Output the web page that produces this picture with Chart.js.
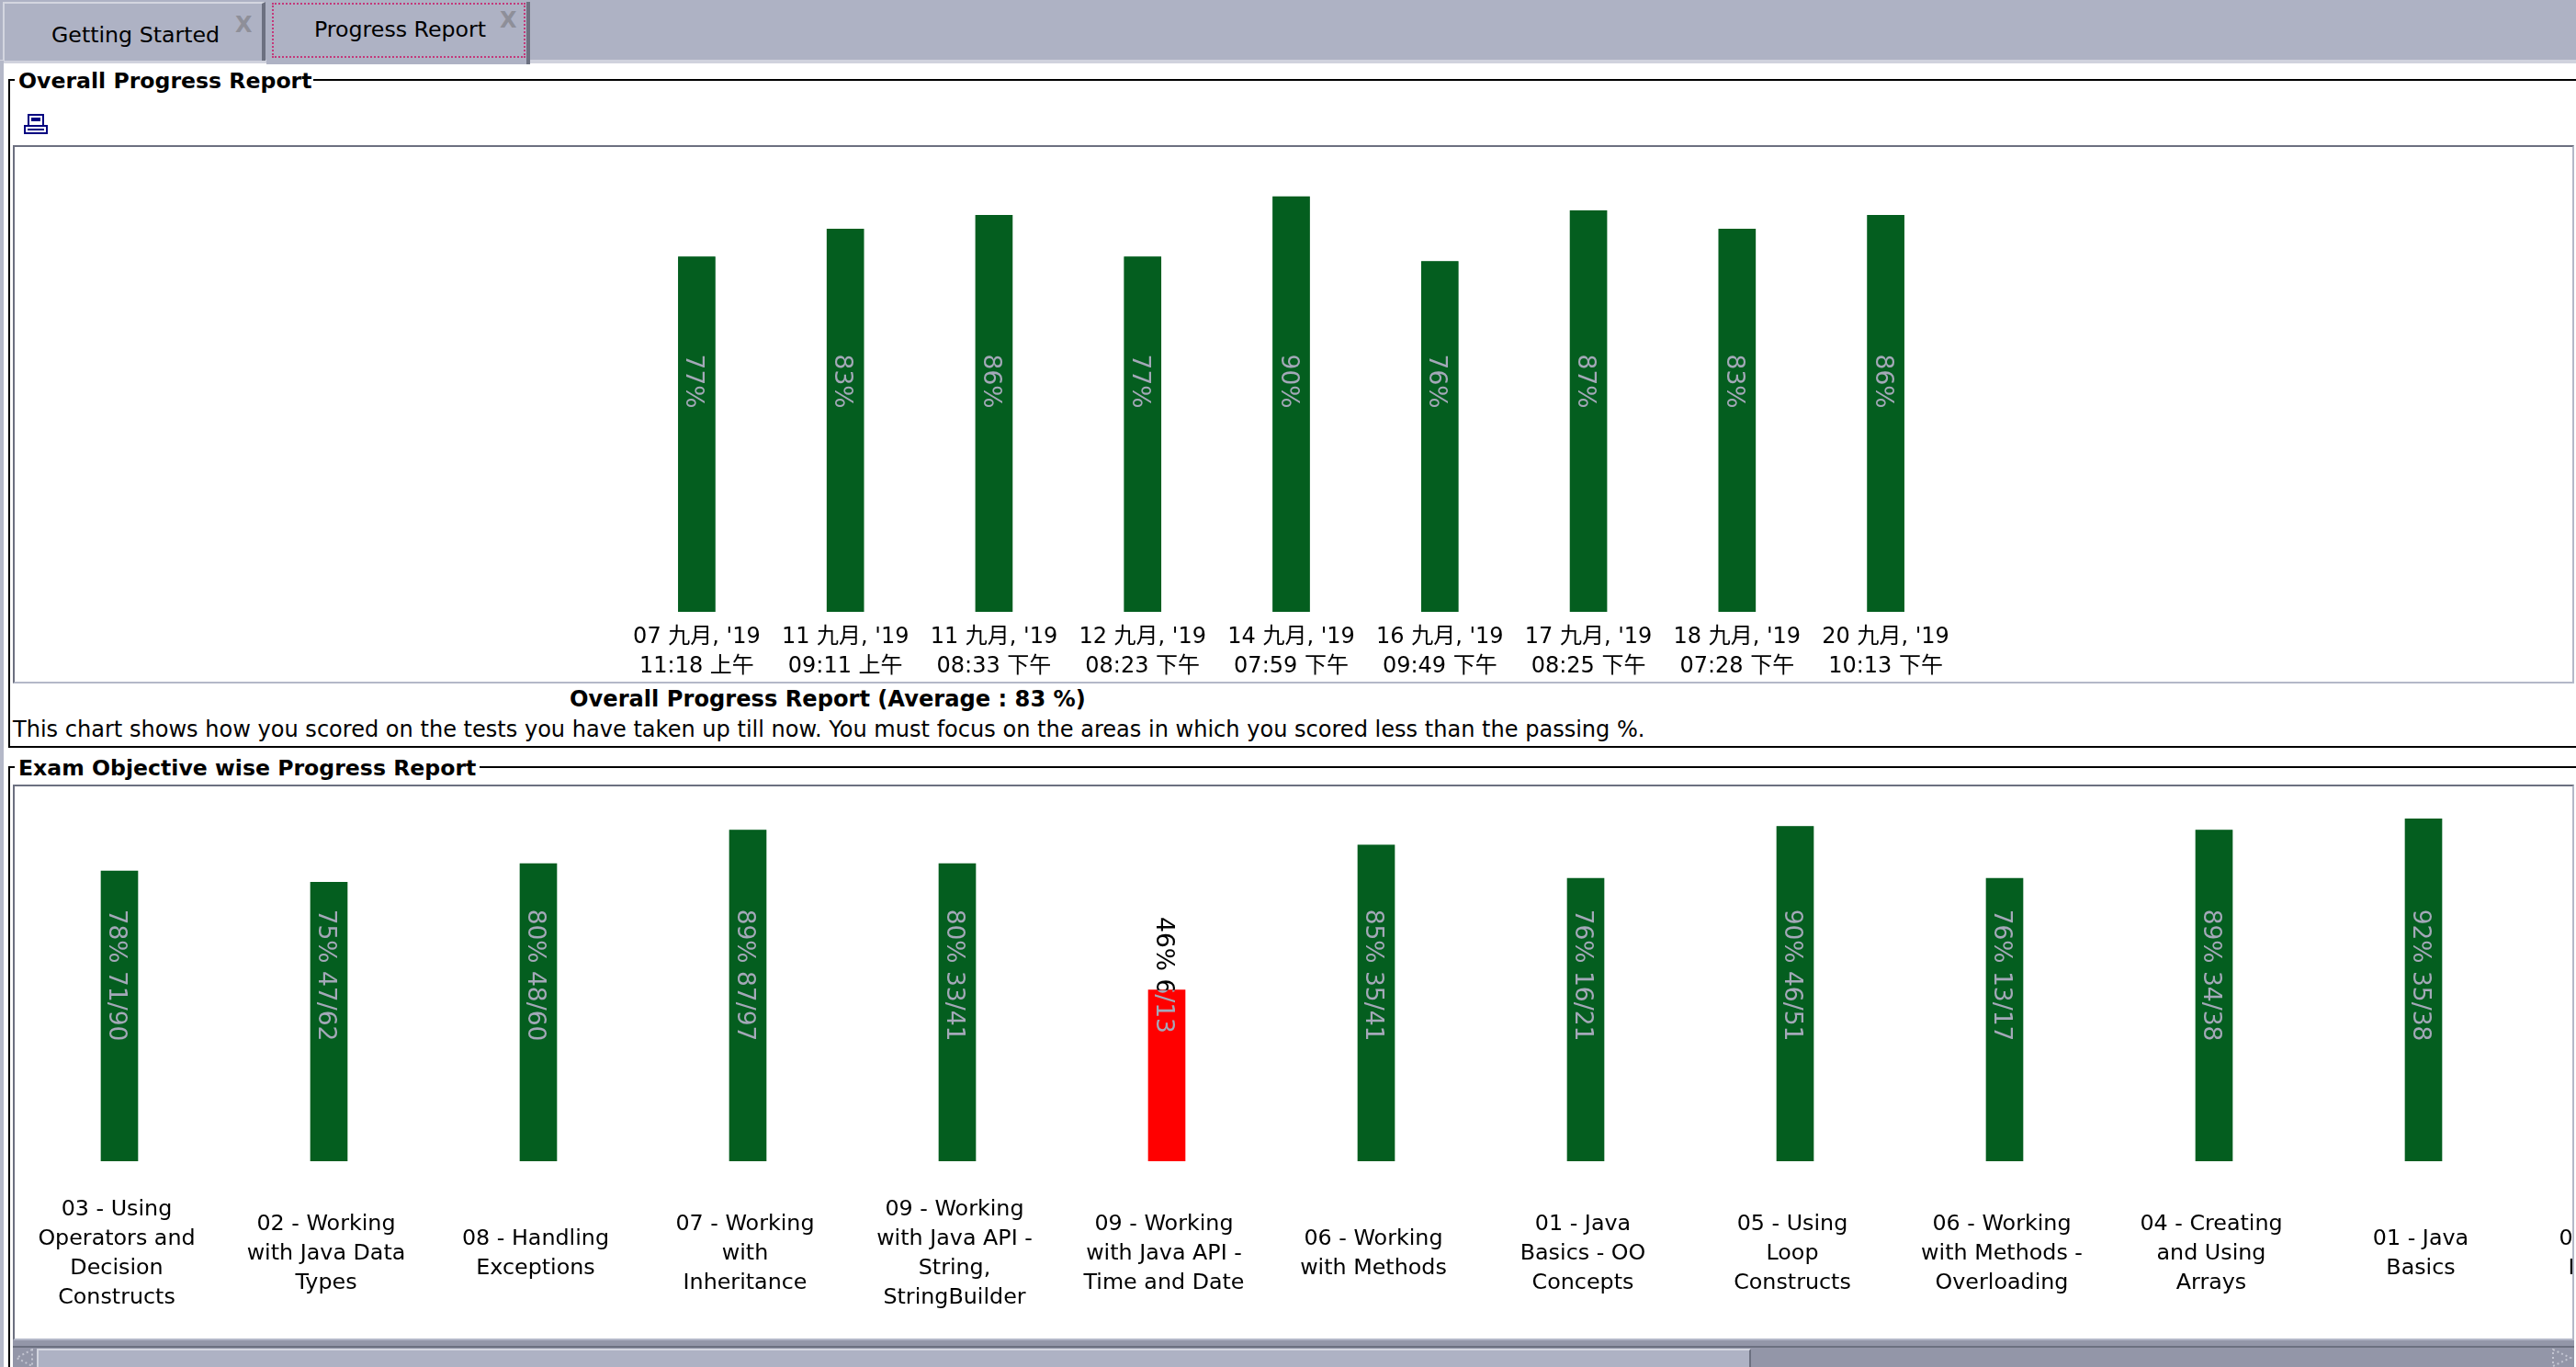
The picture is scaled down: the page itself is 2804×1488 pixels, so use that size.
<!DOCTYPE html>
<html>
<head>
<meta charset="utf-8">
<title>Progress Report</title>
<script src="https://cdn.jsdelivr.net/npm/chart.js@4"></script>
<style>
html, body { margin: 0; padding: 0; background: #fff; width: 2804px; height: 1488px; overflow: hidden; }
body { font: 24px "DejaVu Sans", "Noto Sans CJK TC", sans-serif; color: #000; position: relative; }
.abs { position: absolute; white-space: nowrap; }
.bold { font-weight: bold; }
.legend { font-size: 23.6px; }
.tabtext { font-size: 23.7px; }
.line { position: absolute; background: #000; }
.box { position: absolute; box-sizing: border-box; border-top: 2px solid #6c7080; border-left: 2px solid #6c7080; border-right: 2px solid #b4b8c8; border-bottom: 2px solid #b4b8c8; }
.tab { position: absolute; box-sizing: border-box; top: 2px; height: 64px; background: #aeb2c4; border-top: 2px solid #d4d6e0; border-left: 2px solid #d4d6e0; border-right: 4px solid #6c7080; }
.tabx { position: absolute; font-weight: bold; font-size: 24px; color: #8e8f99; line-height: 24px; }
canvas { position: absolute; left: 0; top: 0; }
</style>
</head>
<body>
<!-- tab strip -->
<div class="abs" style="left:0;top:0;width:2804px;height:66px;background:#aeb2c4"></div>
<div class="abs" style="left:0;top:65px;width:2804px;height:4px;background:#d0d2dd"></div>
<div class="abs" style="left:0;top:66px;width:4px;height:1422px;background:#b4b8c8"></div>
<div class="tab" style="left:3px;width:286px"></div>
<div class="tab" style="left:290px;width:287px;height:68px;border-left:none;border-top:none"></div>
<div class="abs" style="left:296px;top:3px;width:276px;height:60px;box-sizing:border-box;border:2px dotted #c4387a"></div>
<div class="abs tabtext" style="left:56px;top:24px">Getting Started</div>
<div class="abs tabtext" style="left:342px;top:18px">Progress Report</div>
<div class="tabx" style="left:256px;top:15px">X</div>
<div class="tabx" style="left:544px;top:10px">X</div>

<!-- first group -->
<div class="line" style="left:9px;top:86px;width:2px;height:728px"></div>
<div class="line" style="left:9px;top:86px;width:7px;height:2px"></div>
<div class="line" style="left:341px;top:86px;width:2463px;height:2px"></div>
<div class="line" style="left:9px;top:812px;width:2795px;height:2px"></div>
<div class="abs bold legend" style="left:20px;top:74px">Overall Progress Report</div>
<svg class="abs" style="left:26px;top:124px" width="26" height="22" viewBox="0 0 26 22">
  <rect x="5" y="1" width="16" height="12" fill="none" stroke="#000080" stroke-width="2"/>
  <rect x="8" y="4" width="10" height="4" fill="#000080"/>
  <rect x="1" y="13" width="24" height="8" fill="none" stroke="#000080" stroke-width="2"/>
  <rect x="4" y="16" width="18" height="2" fill="#000080"/>
</svg>
<div class="box" style="left:14px;top:158px;width:2788px;height:586px"></div>
<canvas id="chartOverall"></canvas>
<div class="abs bold" style="left:620px;top:747px;font-size:24.15px">Overall Progress Report (Average : 83 %)</div>
<div class="abs" style="left:14px;top:780px;font-size:24.05px">This chart shows how you scored on the tests you have taken up till now. You must focus on the areas in which you scored less than the passing %.</div>

<!-- second group -->
<div class="line" style="left:9px;top:834px;width:2px;height:654px"></div>
<div class="line" style="left:9px;top:834px;width:7px;height:2px"></div>
<div class="line" style="left:522px;top:834px;width:2282px;height:2px"></div>
<div class="abs bold legend" style="left:20px;top:822px">Exam Objective wise Progress Report</div>
<div class="box" style="left:14px;top:854px;width:2788px;height:605px"></div>
<div class="abs" style="left:16px;top:856px;width:2784px;height:601px;overflow:hidden">
  <canvas id="chartObjectives"></canvas>
</div>

<!-- scrollbar -->
<div class="abs" style="left:14px;top:1459px;width:2788px;height:29px;background:#9396a8"></div>
<div class="abs" style="left:14px;top:1465px;width:2788px;height:2px;background:#6c7080"></div>
<div class="abs" style="left:40px;top:1468px;width:1866px;height:20px;box-sizing:border-box;background:#aeb2c4;border-top:2px solid #d4d6e0;border-left:2px solid #d4d6e0;border-right:2px solid #6c7080"></div>
<svg class="abs" style="left:16px;top:1468px" width="20" height="20"><path d="M19 1 L2 10 L19 19 Z" fill="none" stroke="#c4c6d2" stroke-width="2" stroke-dasharray="2 3"/></svg>
<svg class="abs" style="left:2778px;top:1468px" width="22" height="20"><path d="M1 1 L20 10 L1 19 Z" fill="none" stroke="#c4c6d2" stroke-width="2" stroke-dasharray="2 3"/></svg>

<script>
var testDates = [
    ["07 九月, '19", "11:18 上午"],
    ["11 九月, '19", "09:11 上午"],
    ["11 九月, '19", "08:33 下午"],
    ["12 九月, '19", "08:23 下午"],
    ["14 九月, '19", "07:59 下午"],
    ["16 九月, '19", "09:49 下午"],
    ["17 九月, '19", "08:25 下午"],
    ["18 九月, '19", "07:28 下午"],
    ["20 九月, '19", "10:13 下午"]
];
var testPercents = [77, 83, 86, 77, 90, 76, 87, 83, 86];

// the last category runs off the right edge, only its first letters show,
// so its wording is a guess and it has no bar to read
var objectives = [
    ["03 - Using", "Operators and", "Decision", "Constructs"],
    ["02 - Working", "with Java Data", "Types"],
    ["08 - Handling", "Exceptions"],
    ["07 - Working", "with", "Inheritance"],
    ["09 - Working", "with Java API -", "String,", "StringBuilder"],
    ["09 - Working", "with Java API -", "Time and Date"],
    ["06 - Working", "with Methods"],
    ["01 - Java", "Basics - OO", "Concepts"],
    ["05 - Using", "Loop", "Constructs"],
    ["06 - Working", "with Methods -", "Overloading"],
    ["04 - Creating", "and Using", "Arrays"],
    ["01 - Java", "Basics"],
    ["04 - Creating", "Inheritance"]
];
var objectivePercents = [78, 75, 80, 89, 80, 46, 85, 76, 90, 76, 89, 92, null];
var objectiveScores = ["71/90", "47/62", "48/60", "87/97", "33/41", "6/13", "35/41", "16/21", "46/51", "13/17", "34/38", "35/38", ""];

var passingPercent = 65;
var fontFamily = '"DejaVu Sans", "Noto Sans CJK TC", sans-serif';
var green = '#045e1f';
var red = '#ff0000';

// text along each bar, centered on the 50 line: black on white, grey over the bar
var barTextPlugin = {
    id: 'barText',
    afterDatasetsDraw: function (chart) {
        var ctx = chart.ctx;
        var bars = chart.getDatasetMeta(0).data;
        var y50 = chart.scales.y.getPixelForValue(50);
        var texts = chart.options.plugins.barText.texts;
        bars.forEach(function (bar, i) {
            if (!texts[i]) {
                return;
            }
            function put(color) {
                ctx.save();
                ctx.translate(bar.x - 4, y50);
                ctx.rotate(Math.PI / 2);
                ctx.font = '26.5px ' + fontFamily;
                ctx.fillStyle = color;
                ctx.textAlign = 'center';
                ctx.textBaseline = 'middle';
                ctx.fillText(texts[i], 0, 0);
                ctx.restore();
            }
            put('#000000');
            ctx.save();
            ctx.beginPath();
            ctx.rect(bar.x - 20, bar.y, 40, bar.base - bar.y);
            ctx.clip();
            ctx.fillStyle = bar.options.backgroundColor;
            ctx.fillRect(bar.x - 20, bar.y, 40, bar.base - bar.y);
            put('#a4a8b8');
            ctx.restore();
        });
    }
};

function makeChart(id, labels, values, texts, opts) {
    var canvas = document.getElementById(id);
    canvas.width = opts.width;
    canvas.height = opts.height;
    canvas.style.width = opts.width + 'px';
    canvas.style.height = opts.height + 'px';
    canvas.style.left = opts.left + 'px';
    canvas.style.top = opts.top + 'px';
    return new Chart(canvas.getContext('2d'), {
        type: 'bar',
        data: {
            labels: labels,
            datasets: [{
                data: values,
                barThickness: 40,
                backgroundColor: function (c) {
                    return c.raw < passingPercent ? red : green;
                }
            }]
        },
        plugins: [barTextPlugin],
        options: {
            responsive: false,
            animation: false,
            devicePixelRatio: 1,
            layout: { padding: opts.padding },
            plugins: {
                legend: { display: false },
                tooltip: { enabled: false },
                barText: { texts: texts }
            },
            scales: {
                x: {
                    grid: { display: false },
                    border: { display: false },
                    afterFit: function (scale) {
                        scale.height = opts.axisHeight;
                        scale.paddingLeft = 0;
                        scale.paddingRight = 0;
                    },
                    ticks: {
                        autoSkip: false,
                        maxRotation: 0,
                        minRotation: 0,
                        padding: opts.tickPadding,
                        labelOffset: opts.labelOffset,
                        crossAlign: opts.crossAlign,
                        color: '#000000',
                        font: { family: fontFamily, size: opts.tickSize, lineHeight: opts.tickLine }
                    }
                },
                y: { display: false, min: 0, max: 100 }
            }
        }
    });
}

var overallTexts = testPercents.map(function (p) {
    return p + '%';
});
var objectiveTexts = objectivePercents.map(function (p, i) {
    return p === null ? '' : p + '% ' + objectiveScores[i];
});

makeChart('chartOverall', testDates, testPercents, overallTexts, {
    left: 16, top: 160, width: 2784, height: 582,
    padding: { left: 661.5, right: 666.5, top: 4, bottom: 0 },
    axisHeight: 76, tickPadding: 4, labelOffset: 0, crossAlign: 'near', tickSize: 24, tickLine: 1.33
});
makeChart('chartObjectives', objectives, objectivePercents, objectiveTexts, {
    left: 0, top: 0, width: 2964, height: 601,
    padding: { left: 0, right: 0, top: 3, bottom: 0 },
    axisHeight: 193, tickPadding: 45, labelOffset: -3, crossAlign: 'center', tickSize: 23.8, tickLine: 1.345
});
</script>
</body>
</html>
